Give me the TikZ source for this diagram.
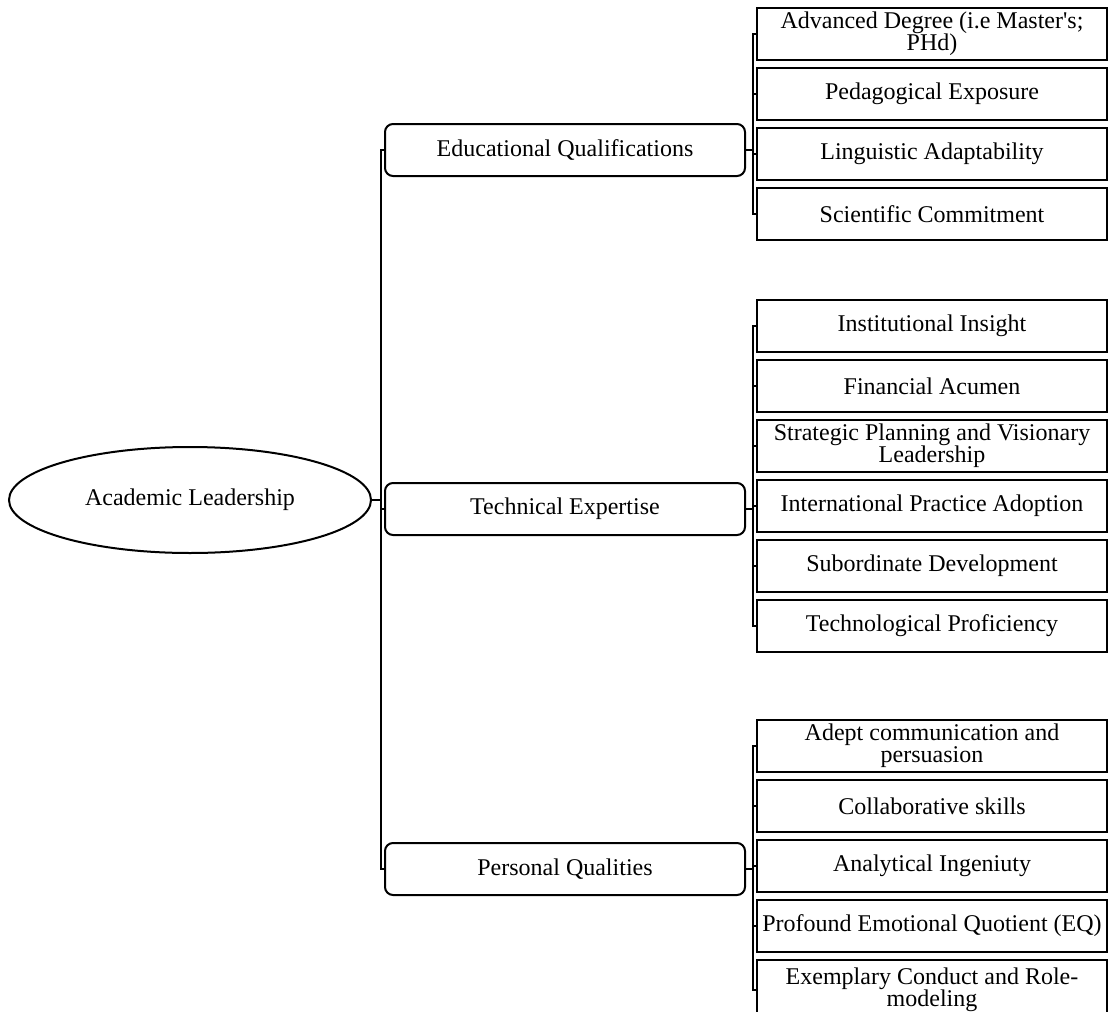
\documentclass[tikz,border=0pt]{standalone}
\usepackage{fontspec}
\setmainfont{Liberation Serif}
\usetikzlibrary{shapes.geometric, positioning}

\begin{document}
\begin{tikzpicture}[
    x=0.5pt, y=-0.5pt,
    boxfont/.style={
        font=\fontsize{12}{11}\selectfont
    },
    rootnode/.style={
        ellipse,
        draw,
        line width=1pt,
        minimum width=181pt,
        minimum height=53pt,
        boxfont
    },
    areanode/.style={
        rectangle,
        rounded corners=4pt,
        draw,
        line width=1pt,
        minimum width=180pt,
        minimum height=26pt,
        boxfont
    },
    itemnode/.style={
        rectangle,
        draw,
        line width=1pt,
        minimum width=175pt,
        minimum height=26pt,
        inner sep=1pt,
        align=center,
        boxfont
    },
    link/.style={
        line width=1pt
    }
]

% Page area
\useasboundingbox (0,0) rectangle (1109,1012);
\clip (0,0) rectangle (1109,1012);

% Root
\node[rootnode] (root) at (190,500) {Academic Leadership};

% Areas
\node[areanode] (edu) at (565,150) {Educational Qualifications};
\node[areanode] (tech) at (565,509) {Technical Expertise};
\node[areanode] (pers) at (565,869) {Personal Qualities};

\draw[link] (root.east) -- ++(9,0) coordinate (rbus);
\foreach \n in {edu, tech, pers} {
    \draw[link] (rbus) |- (\n.west);
}

% Educational items
\draw[link] (edu.east) -- ++(7,0) coordinate (ebus);
\foreach \n/\y/\t in {adv/34/{Advanced Degree (i.e Master\textquotesingle s;\\PHd)},
                      ped/94/{Pedagogical Exposure},
                      lin/154/{Linguistic Adaptability},
                      sci/214/{Scientific Commitment}} {
    \node[itemnode] (\n) at (932,\y) {\t};
    \draw[link] (ebus) |- (\n.west);
}

% Technical items
\draw[link] (tech.east) -- ++(7,0) coordinate (tbus);
\foreach \n/\y/\t in {ins/326/{Institutional Insight},
                      fin/386/{Financial Acumen},
                      str/446/{Strategic Planning and Visionary\\Leadership},
                      int/506/{International Practice Adoption},
                      sub/566/{Subordinate Development},
                      tec/626/{Technological Proficiency}} {
    \node[itemnode] (\n) at (932,\y) {\t};
    \draw[link] (tbus) |- (\n.west);
}

% Personal items
\draw[link] (pers.east) -- ++(7,0) coordinate (pbus);
\foreach \n/\y/\t in {ade/746/{Adept communication and\\persuasion},
                      col/806/{Collaborative skills},
                      ana/866/{Analytical Ingeniuty},
                      emo/926/{Profound Emotional Quotient (EQ)}} {
    \node[itemnode] (\n) at (932,\y) {\t};
    \draw[link] (pbus) |- (\n.west);
}
\node[itemnode, minimum height=30pt] (exe) at (932,990) {Exemplary Conduct and Role-\\modeling};
\draw[link] (pbus) |- (exe.west);

\end{tikzpicture}
\end{document}
